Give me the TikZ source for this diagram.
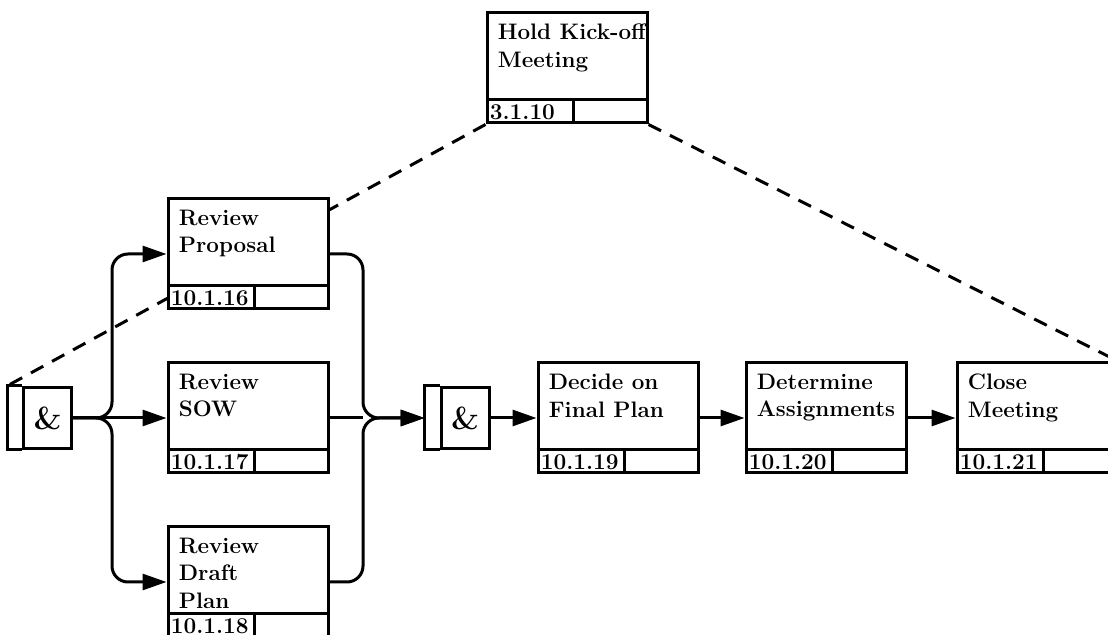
\documentclass[tikz,border=0pt]{standalone}
\usepackage{tikz}
\usetikzlibrary{arrows.meta,positioning}
\pgfdeclarelayer{background}
\pgfsetlayers{background,main}

\begin{document}
\begin{tikzpicture}[x=0.5pt, y=-0.5pt,
    every node/.style={font=\fontsize{11}{13.5}\selectfont},
    act/.style={draw, fill=white, line width=1.5pt, minimum width=80pt, minimum height=55pt, inner sep=0pt},
    acttext/.style={font=\fontsize{11.2}{13.8}\selectfont\bfseries, align=left, inner sep=0pt},
    actnum/.style={font=\fontsize{11.3}{13}\selectfont\bfseries, inner sep=0pt},
    junction/.style={draw, fill=white, line width=1.5pt, minimum width=24pt, minimum height=30.5pt, inner sep=0pt, font=\fontsize{16}{16}\selectfont\bfseries},
    flow/.style={line width=1.5pt, -{Triangle[length=12pt, width=8pt]}},
    link/.style={line width=1.5pt},
    decomp/.style={line width=1.5pt, dash pattern=on 7pt off 5pt}]
    \clip (0,0) rectangle (1108,635);

    % activity boxes
    \node[act] (ko) at (567,68) {};
    \node[act] (rp) at (248,254) {};
    \node[act] (rs) at (248,418) {};
    \node[act] (rd) at (248,582) {};
    \node[act] (dp) at (618,418) {};
    \node[act] (dt) at (826,418) {};
    \node[act] (cm) at (1037,418) {};

    \node[acttext, below right=6pt and 6pt of ko.north west] (ko-t) {Hold Kick-off\\Meeting};
    \node[acttext, below right=6pt and 6pt of rp.north west] (rp-t) {Review\\Proposal};
    \node[acttext, below right=6pt and 6pt of rs.north west] (rs-t) {Review\\SOW};
    \node[acttext, below right=6pt and 6pt of rd.north west] (rd-t) {Review\\Draft\\Plan};
    \node[acttext, below right=6pt and 6pt of dp.north west] (dp-t) {Decide on\\Final Plan};
    \node[acttext, below right=6pt and 6pt of dt.north west] (dt-t) {Determine\\Assignments};
    \node[acttext, below right=6pt and 6pt of cm.north west] (cm-t) {Close\\Meeting};

    \foreach \b/\n in {ko/3.1.10, rp/10.1.16, rs/10.1.17, rd/10.1.18, dp/10.1.19, dt/10.1.20, cm/10.1.21} {
        \draw[link] ([yshift=12.5pt]\b.south west) -- ([yshift=12.5pt]\b.south east);
        \draw[link] ([xshift=44pt]\b.south west) -- ++(0,12.5pt);
        \node[actnum, above right=2.4pt and 2pt of \b.south west] (\b-n) {\n};
    }

    % junctions
    \node[junction] (a1) at (47.5,418) {\&};
    \node[junction] (a2) at (465,418) {\&};
    \draw[link] (a1.north west) -- ++(-7.5pt,0) |- (a1.south west);
    \draw[link] (a2.north west) -- ++(-7.5pt,0) |- (a2.south west);

    % decomposition lines
    \begin{pgfonlayer}{background}
        \draw[decomp] (ko.south west) -- ([xshift=-7.5pt]a1.north west);
        \draw[decomp] (ko.south east) -- (cm.north east);
    \end{pgfonlayer}

    % links
    \coordinate (split) at (112,418);
    \coordinate (join) at (363,418);
    \draw[flow, rounded corners=8pt] (a1.east) -- (split) |- (rp.west);
    \draw[flow] (a1.east) -- (rs.west);
    \draw[flow, rounded corners=8pt] (a1.east) -- (split) |- (rd.west);
    \draw[flow, rounded corners=8pt] (rp.east) -| (join) -- ([xshift=-7.5pt]a2.west);
    \draw[link] (rs.east) -- (join);
    \draw[flow, rounded corners=8pt] (rd.east) -| (join) -- ([xshift=-7.5pt]a2.west);
    \draw[flow] (a2.east) -- (dp.west);
    \draw[flow] (dp.east) -- (dt.west);
    \draw[flow] (dt.east) -- (cm.west);
\end{tikzpicture}
\end{document}
